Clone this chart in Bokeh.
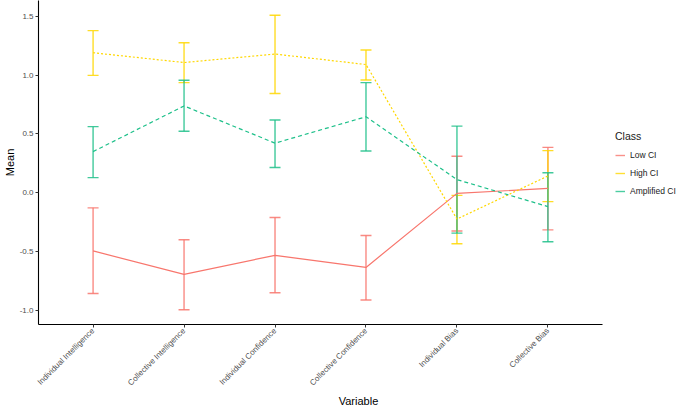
import math
from bokeh.plotting import figure
from bokeh.models import (Range1d, FixedTicker, PrintfTickFormatter, Whisker, TeeHead,
                          ColumnDataSource, Legend, LegendItem)
from bokeh.embed import file_html
from bokeh.resources import INLINE

variables = ["Individual Intelligence", "Collective Intelligence", "Individual Confidence",
             "Collective Confidence", "Individual Bias", "Collective Bias"]
classes = ["Low CI", "High CI", "Amplified CI"]

low_mean = [-0.494, -0.693, -0.531, -0.634, -0.005, 0.037]
low_upper = [-0.128, -0.399, -0.210, -0.363, 0.310, 0.386]
low_lower = [-0.855, -0.994, -0.849, -0.911, -0.324, -0.315]

high_mean = [1.190, 1.107, 1.179, 1.090, -0.223, 0.143]
high_upper = [1.378, 1.275, 1.509, 1.213, -0.022, 0.358]
high_lower = [0.998, 0.936, 0.844, 0.959, -0.433, -0.075]

amp_mean = [0.350, 0.738, 0.422, 0.646, 0.112, -0.117]
amp_upper = [0.562, 0.956, 0.618, 0.936, 0.567, 0.171]
amp_lower = [0.129, 0.523, 0.215, 0.355, -0.343, -0.416]

y_ticks = [-1.0, -0.5, 0.0, 0.5, 1.0, 1.5]

colors = ["#F8766D", "#FFD700", "#1EC08A"]
dashes = ["solid", "2 2", "4 3"]

FONT = "Liberation Sans"

FRAME_W = 640
PANEL_W = 564  # pixels used by the ggplot-style panel
x_lo, x_hi = 0.4, 6.6
x_end = x_lo + FRAME_W / PANEL_W * (x_hi - x_lo)

p = figure(frame_width=FRAME_W, frame_height=324, output_backend="svg", toolbar_location=None,
           x_range=Range1d(x_lo, x_end), y_range=Range1d(-1.119, 1.634),
           min_border_top=0, min_border_left=0, min_border_right=0, min_border_bottom=0)
p.outline_line_color = None
p.xgrid.visible = False
p.ygrid.visible = False
p.background_fill_color = "white"

xpos = list(range(1, len(variables) + 1))

series = [(low_mean, low_upper, low_lower), (high_mean, high_upper, high_lower),
          (amp_mean, amp_upper, amp_lower)]

for (m, u, l), c, d in zip(series, colors, dashes):
    p.line(xpos, m, line_color=c, line_width=1.2, line_dash=d)

for (m, u, l), c in zip(series, colors):
    src = ColumnDataSource(dict(x=xpos, upper=u, lower=l))
    w = Whisker(base="x", upper="upper", lower="lower", source=src,
                line_color=c, line_width=1.4, line_alpha=0.85,
                upper_head=TeeHead(size=11, line_color=c, line_width=1.4, line_alpha=0.85),
                lower_head=TeeHead(size=11, line_color=c, line_width=1.4, line_alpha=0.85))
    p.add_layout(w)

# hidden solid-line renderers used only as legend keys
items = []
for name, (m, u, l), c in zip(classes, series, colors):
    r = p.line(xpos, m, line_color=c, line_width=1.4, line_alpha=0.8, visible=False)
    items.append(LegendItem(label=name, renderers=[r]))

legend = Legend(items=items, title="Class", location=(577, 126),
                border_line_color=None, background_fill_alpha=0,
                label_text_font_size="8.5px", label_text_font=FONT, label_text_color="#1a1a1a",
                title_text_font_size="10.5px", title_text_font=FONT, title_text_font_style="normal",
                title_text_color="#1a1a1a", title_standoff=6,
                glyph_width=10, glyph_height=14, label_height=14, spacing=4,
                label_standoff=5, padding=0, margin=0)
p.add_layout(legend)

# Axes
p.xaxis.ticker = FixedTicker(ticks=xpos)
p.xaxis.bounds = (x_lo, x_hi)
p.xaxis.major_label_overrides = {i + 1: v for i, v in enumerate(variables)}
p.xaxis.major_label_orientation = math.pi / 4
p.xaxis.axis_label = "Variable"
p.yaxis.ticker = FixedTicker(ticks=y_ticks)
p.yaxis.formatter = PrintfTickFormatter(format="%.1f")
p.yaxis.axis_label = "Mean"

for ax in (p.xaxis, p.yaxis):
    ax.axis_line_color = "black"
    ax.axis_line_width = 1.1
    ax.major_tick_line_color = "#333333"
    ax.major_tick_out = 3
    ax.major_tick_in = 0
    ax.minor_tick_line_color = None
    ax.major_label_text_font = FONT
    ax.major_label_text_font_size = "8px"
    ax.major_label_text_color = "#4D4D4D"
    ax.major_label_text_line_height = 1.0
    ax.major_label_standoff = 2
    ax.axis_label_text_font = FONT
    ax.axis_label_text_font_size = "11px"
    ax.axis_label_text_font_style = "normal"
    ax.axis_label_text_color = "black"
    ax.axis_label_text_line_height = 1.0
    ax.axis_label_standoff = 1

open("out.html", "w").write(file_html(p, INLINE))
